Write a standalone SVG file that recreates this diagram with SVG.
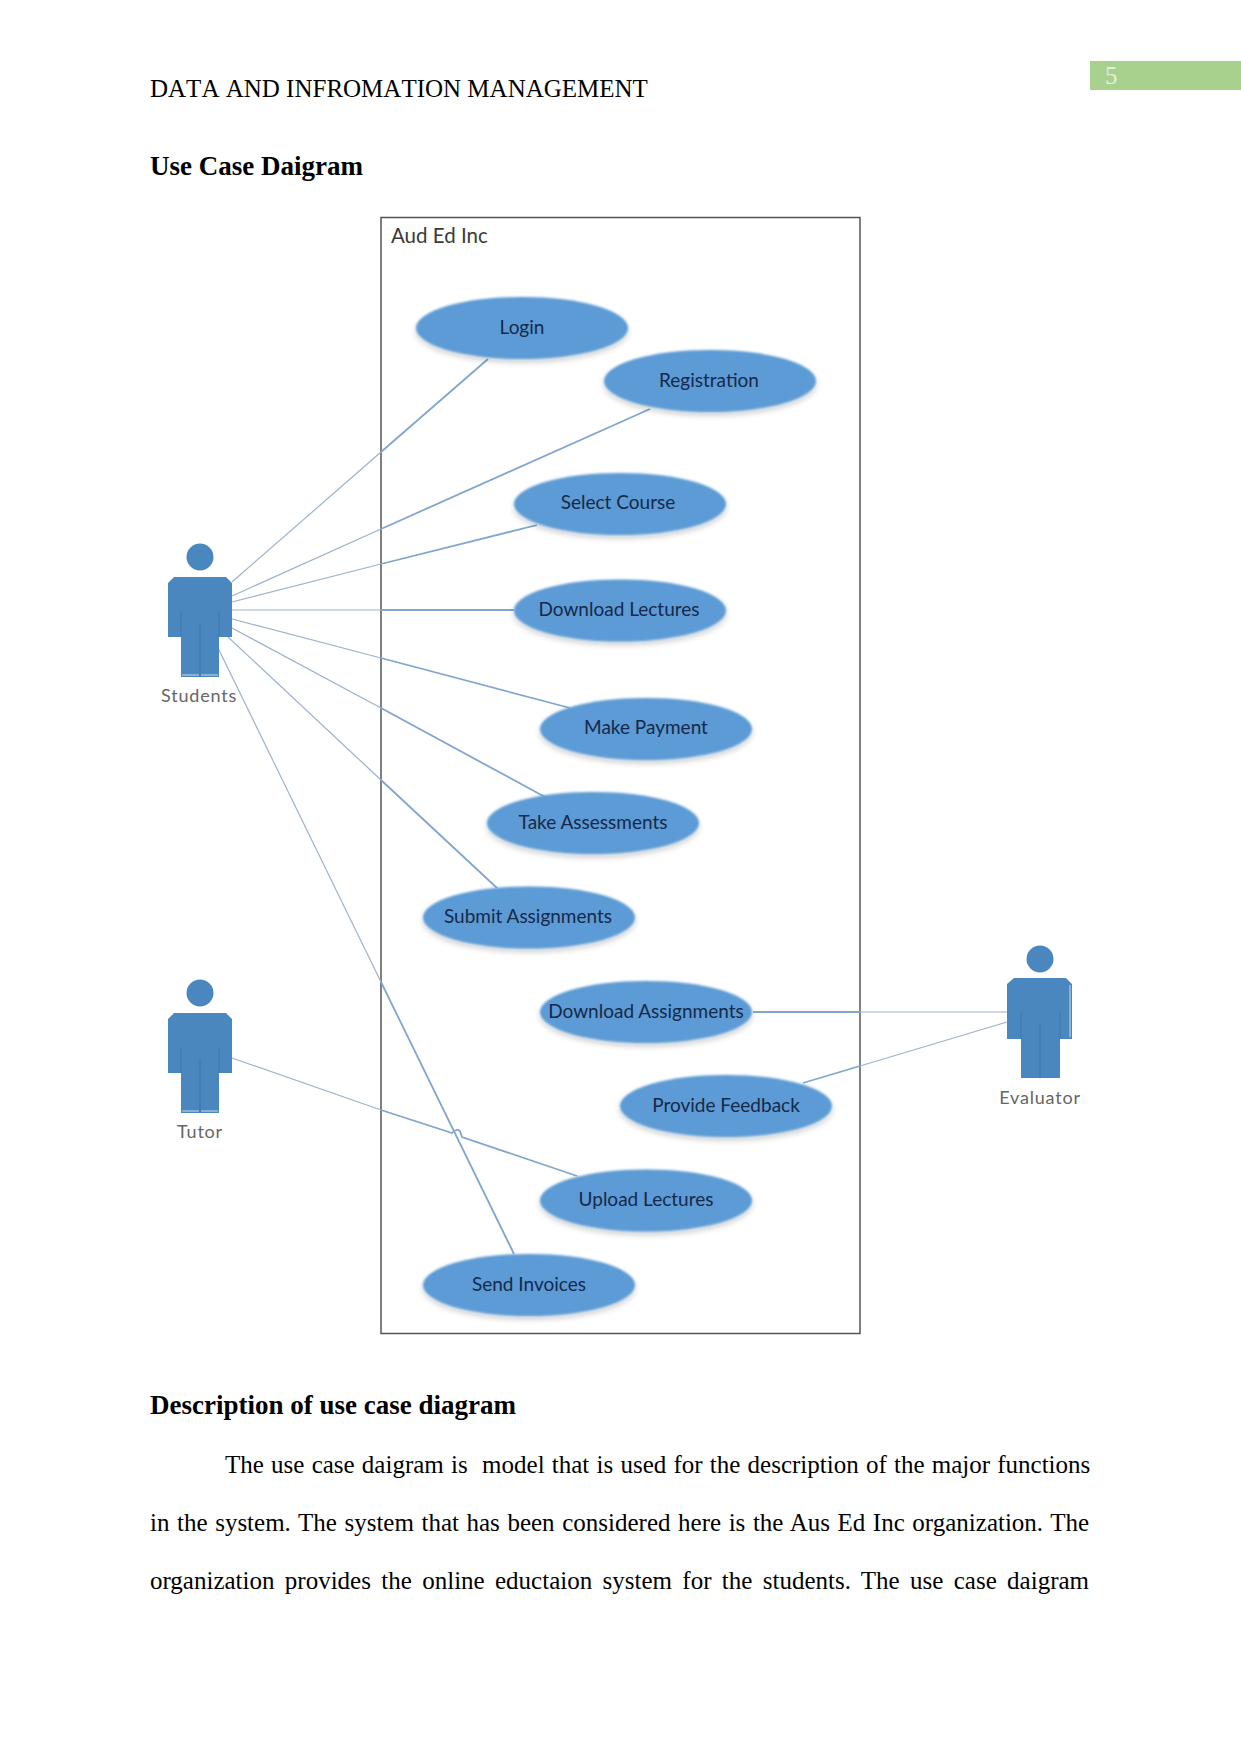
<svg xmlns="http://www.w3.org/2000/svg" width="1241" height="1754" viewBox="0 0 1241 1754">
<defs>
<filter id="soft" x="-10%" y="-20%" width="120%" height="150%">
<feGaussianBlur in="SourceGraphic" stdDeviation="0.8" result="e"/>
<feGaussianBlur in="SourceAlpha" stdDeviation="3"/>
<feOffset dy="3"/>
<feComponentTransfer><feFuncA type="linear" slope="0.22"/></feComponentTransfer>
<feMerge><feMergeNode/><feMergeNode in="e"/></feMerge>
</filter>
<filter id="blur" x="-5%" y="-5%" width="110%" height="110%"><feGaussianBlur stdDeviation="0.5"/></filter>
</defs>
<style>
.page{font-family:"Liberation Serif","Times New Roman",serif;fill:#000}
.h{font-size:27px;font-weight:bold}
.b{font-size:25px}
.uc ellipse{fill:#5b9bd5;filter:url(#soft)}
.uc text{font-family:Lato,"Open Sans",sans-serif;font-size:19px;fill:#16294a;text-anchor:middle}
.actor path,.actor circle{fill:#4a87bf}
.actor .seam{fill:none;stroke:#3f76a8;stroke-width:1}
.actor .edge{fill:none;stroke:#c9dcec;stroke-width:1}
.actor text{font-family:Lato,"Open Sans",sans-serif;font-size:18px;fill:#666;text-anchor:middle;letter-spacing:.8px}
.out{stroke:#9db2c9;stroke-width:1.2;fill:none}
.in{stroke:#80a6cf;stroke-width:1.8;fill:none}
</style>
<rect width="1241" height="1754" fill="#fff"/>
<g id="header">
<text class="page" x="150" y="97" font-size="25" style="font-kerning:none">DATA AND INFROMATION MANAGEMENT</text>
<rect x="1090" y="61" width="151" height="29" fill="#a9d18e"/>
<text x="1105" y="84" font-family="Liberation Serif,serif" font-size="25" fill="#e2f0d9">5</text>
</g>
<text class="page h" x="150" y="175">Use Case Daigram</text>
<g id="system">
<rect x="381" y="217.500" width="479" height="1116" fill="#fff" stroke="#555" stroke-width="1.500"/>
<text x="391" y="243" font-family="Lato,Open Sans,sans-serif" font-size="20.500" fill="#3a3a3a">Aud Ed Inc</text>
</g>
<g id="connectors" filter="url(#blur)">
<line class="out" x1="232" y1="582" x2="381" y2="452"/><line class="in" x1="381" y1="452" x2="488" y2="359"/>
<line class="out" x1="232" y1="596" x2="381" y2="529"/><line class="in" x1="381" y1="529" x2="650" y2="409"/>
<line class="out" x1="232" y1="602" x2="381" y2="564"/><line class="in" x1="381" y1="564" x2="537" y2="525"/>
<line class="out" x1="232" y1="610" x2="381" y2="610"/><line class="in" x1="381" y1="610" x2="514" y2="610"/>
<line class="out" x1="232" y1="619" x2="381" y2="658"/><line class="in" x1="381" y1="658" x2="570" y2="708"/>
<line class="out" x1="232" y1="628" x2="381" y2="708"/><line class="in" x1="381" y1="708" x2="545" y2="797"/>
<line class="out" x1="228" y1="637" x2="381" y2="780"/><line class="in" x1="381" y1="780" x2="497" y2="888"/>
<line class="out" x1="219" y1="650" x2="381" y2="982"/><line class="in" x1="381" y1="982" x2="514" y2="1254"/>
<line class="out" x1="232" y1="1058" x2="381" y2="1110"/><path class="in" d="M381 1110L452 1133Q456 1128 460 1131L462 1137L577 1176"/>
<line class="in" x1="753" y1="1012" x2="860" y2="1012"/><line class="out" x1="860" y1="1012" x2="1007" y2="1012"/>
<line class="in" x1="803" y1="1083" x2="860" y2="1066"/><line class="out" x1="860" y1="1066" x2="1007" y2="1022"/>
</g>
<g id="uc-login" class="uc"><ellipse cx="522" cy="328" rx="106" ry="31"/><text x="522" y="334">Login</text></g>
<g id="uc-registration" class="uc"><ellipse cx="710" cy="381" rx="106" ry="31"/><text x="709" y="387">Registration</text></g>
<g id="uc-select" class="uc"><ellipse cx="620" cy="504" rx="106" ry="31"/><text x="618" y="509">Select Course</text></g>
<g id="uc-downlect" class="uc"><ellipse cx="620" cy="610.500" rx="106" ry="31"/><text x="619" y="616">Download Lectures</text></g>
<g id="uc-pay" class="uc"><ellipse cx="646" cy="729" rx="106" ry="31"/><text x="646" y="734">Make Payment</text></g>
<g id="uc-assess" class="uc"><ellipse cx="593" cy="823" rx="106" ry="31"/><text x="593" y="829">Take Assessments</text></g>
<g id="uc-submit" class="uc"><ellipse cx="529" cy="917.500" rx="106" ry="31"/><text x="528" y="923">Submit Assignments</text></g>
<g id="uc-downassign" class="uc"><ellipse cx="646" cy="1012" rx="106" ry="31"/><text x="646" y="1018">Download Assignments</text></g>
<g id="uc-feedback" class="uc"><ellipse cx="726" cy="1106" rx="106" ry="31"/><text x="726" y="1112">Provide Feedback</text></g>
<g id="uc-upload" class="uc"><ellipse cx="646" cy="1200.500" rx="106" ry="31"/><text x="646" y="1206">Upload Lectures</text></g>
<g id="uc-invoices" class="uc"><ellipse cx="529" cy="1285" rx="106" ry="31"/><text x="529" y="1291">Send Invoices</text></g>
<g id="actor-students" class="actor">
<circle cx="200" cy="557" r="13.500"/>
<path d="M174 577H226L232 583V637H219V677H181V637H168V583Z"/>
<path class="seam" d="M181 611V637M219 611V637M200 624V677"/>
<path class="edge" d="M182 675H199M201 675H218"/>
<text x="199" y="702">Students</text></g>
<g id="actor-tutor" class="actor">
<circle cx="200" cy="993" r="13.500"/>
<path d="M174 1013H226L232 1019V1073H219V1113H181V1073H168V1019Z"/>
<path class="seam" d="M181 1047V1073M219 1047V1073M200 1060V1113"/>
<path class="edge" d="M182 1111H199M201 1111H218"/>
<text x="200" y="1138">Tutor</text></g>
<g id="actor-evaluator" class="actor">
<circle cx="1040" cy="959" r="13.500"/>
<path d="M1014 978H1066L1072 984V1039H1060V1078H1021V1039H1007V984Z"/>
<path class="seam" d="M1021 1012V1039M1060 1012V1039M1040 1025V1078"/>
<path class="edge" d="M1070 985V1037"/>
<text x="1040" y="1104">Evaluator</text></g>
<g id="description" class="page">
<text class="h" x="150" y="1414">Description of use case diagram</text>
<text class="b" x="225" y="1473" xml:space="preserve" word-spacing="0.97">The use case daigram is  model that is used for the description of the major functions</text>
<text class="b" x="150" y="1531" word-spacing="1.33">in the system. The system that has been considered here is the Aus Ed Inc organization. The</text>
<text class="b" x="150" y="1589" word-spacing="4.1">organization provides the online eductaion system for the students. The use case daigram</text>
</g>
</svg>
